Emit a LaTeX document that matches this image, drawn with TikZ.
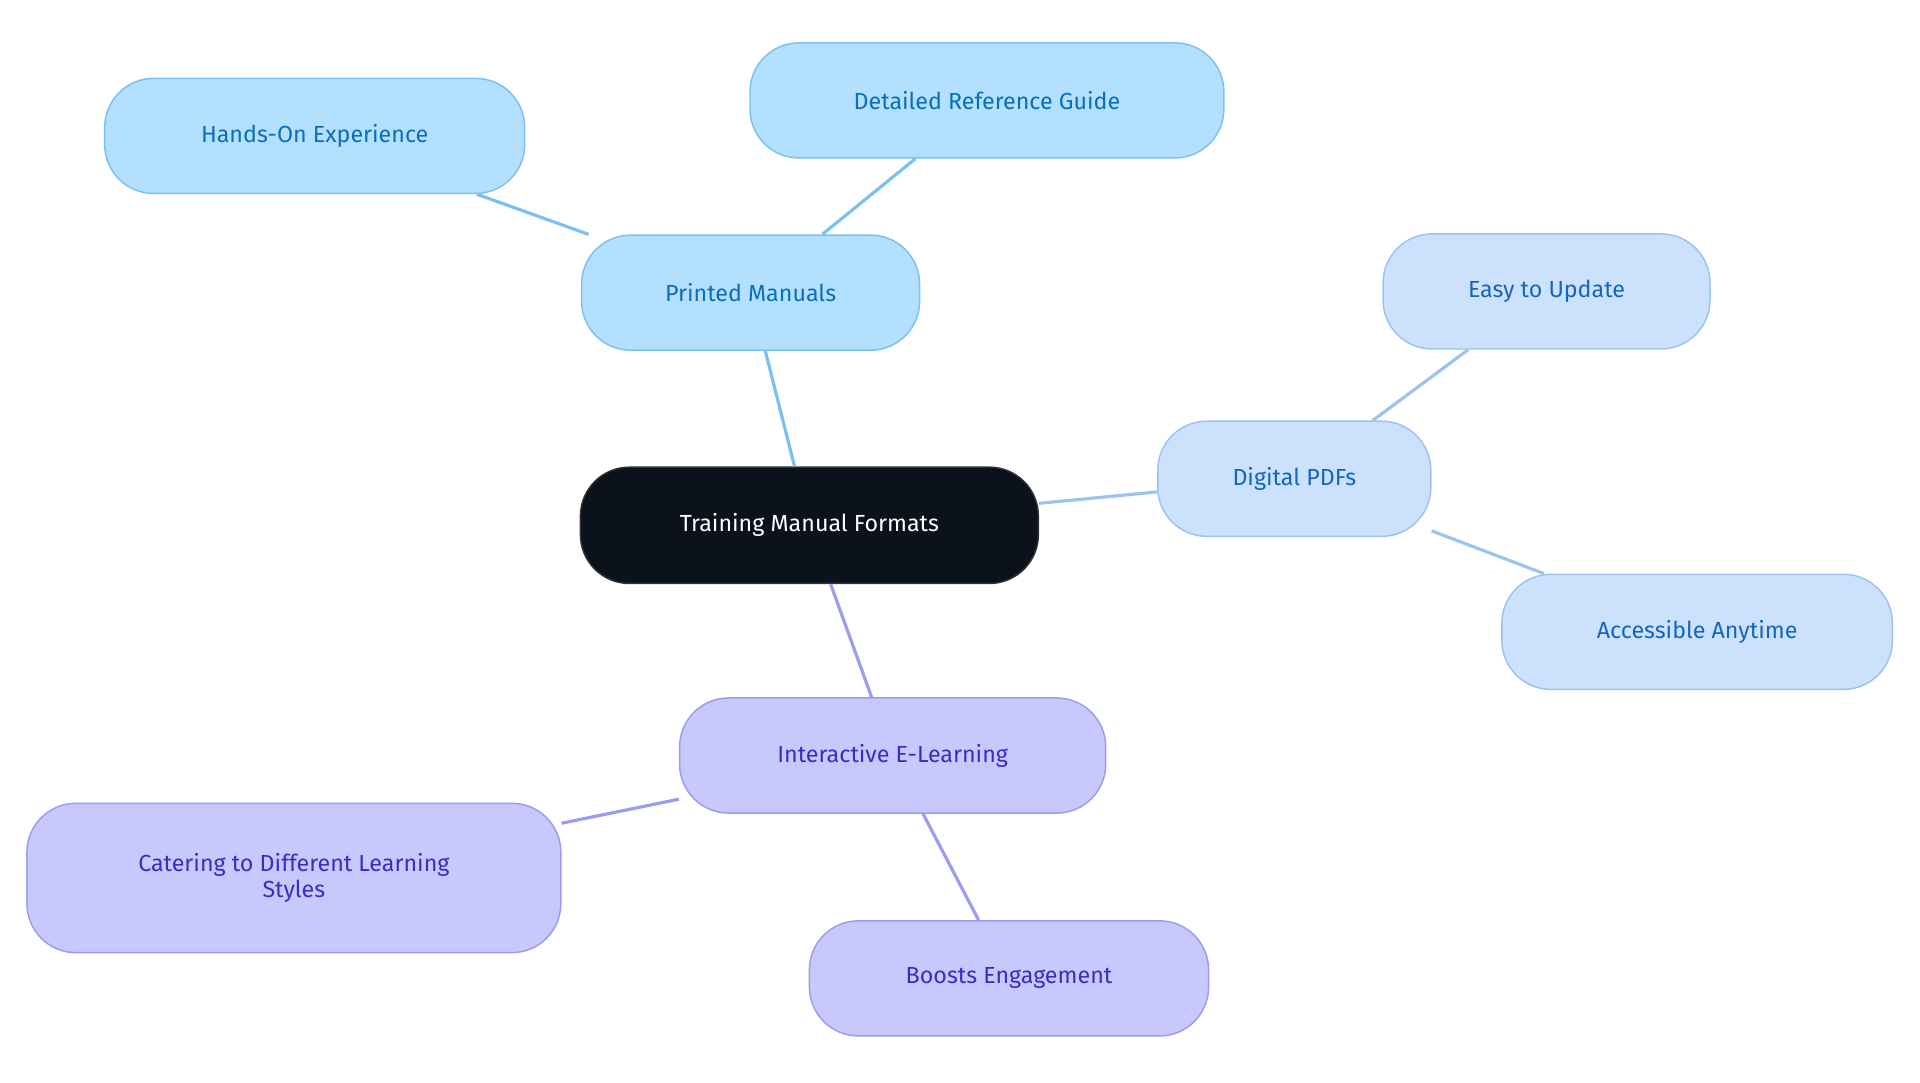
\documentclass[tikz,border=0pt]{standalone}
\usepackage{fontspec}
\setmainfont{Fira Sans}
\definecolor{rootf}{HTML}{0B121C}
\definecolor{bf}{HTML}{B3E0FF}\definecolor{bd}{HTML}{7BC0F0}\definecolor{bt}{HTML}{0A6EBD}
\definecolor{df}{HTML}{CCE2FC}\definecolor{dd}{HTML}{9CC3F0}\definecolor{dt}{HTML}{1565C0}
\definecolor{pf}{HTML}{C8C8FC}\definecolor{pd}{HTML}{9C9CEE}\definecolor{pt}{HTML}{3B2CC4}
\begin{document}
\begin{tikzpicture}[x=1pt,y=-1pt,
 box/.style={rounded corners=40pt,draw,line width=1.2pt,align=center,inner sep=0pt,font=\fontsize{19}{21}\selectfont,minimum height=94pt},
 b/.style={box,fill=bf,draw=bd,text=bt},
 d/.style={box,fill=df,draw=dd,text=dt},
 p/.style={box,fill=pf,draw=pd,text=pt},
 e/.style={line width=2.6pt}]
\useasboundingbox (0,0) rectangle (1568,884);
\node[box,fill=rootf,draw=rootf!70!gray,text=white,minimum width=374pt,minimum height=95pt] (r) at (661,429) {Training Manual Formats};
\node[b,minimum width=276pt] (pm) at (613,239) {Printed Manuals};
\node[b,minimum width=343pt] (ho) at (257,111) {Hands-On Experience};
\node[b,minimum width=387pt] (dr) at (806,82) {Detailed Reference Guide};
\node[d,minimum width=223pt] (dp) at (1057,391) {Digital PDFs};
\node[d,minimum width=267pt] (eu) at (1263,238) {Easy to Update};
\node[d,minimum width=319pt] (aa) at (1386,516) {Accessible Anytime};
\node[p,minimum width=348pt] (ie) at (729,617) {Interactive E-Learning};
\node[p,minimum width=436pt,minimum height=122pt] (cd) at (240,717) {Catering to Different Learning\\Styles};
\node[p,minimum width=326pt] (be) at (824,799) {Boosts Engagement};
\begin{scope}[on background layer/.style={}]
\end{scope}
\begin{pgfonlayer}{main}\end{pgfonlayer}
\draw[e,bd] (r) -- (pm); \draw[e,bd] (pm) -- (ho); \draw[e,bd] (pm) -- (dr);
\draw[e,dd] (r) -- (dp); \draw[e,dd] (dp) -- (eu); \draw[e,dd] (dp) -- (aa);
\draw[e,pd] (r) -- (ie); \draw[e,pd] (ie) -- (cd); \draw[e,pd] (ie) -- (be);
\end{tikzpicture}
\end{document}
